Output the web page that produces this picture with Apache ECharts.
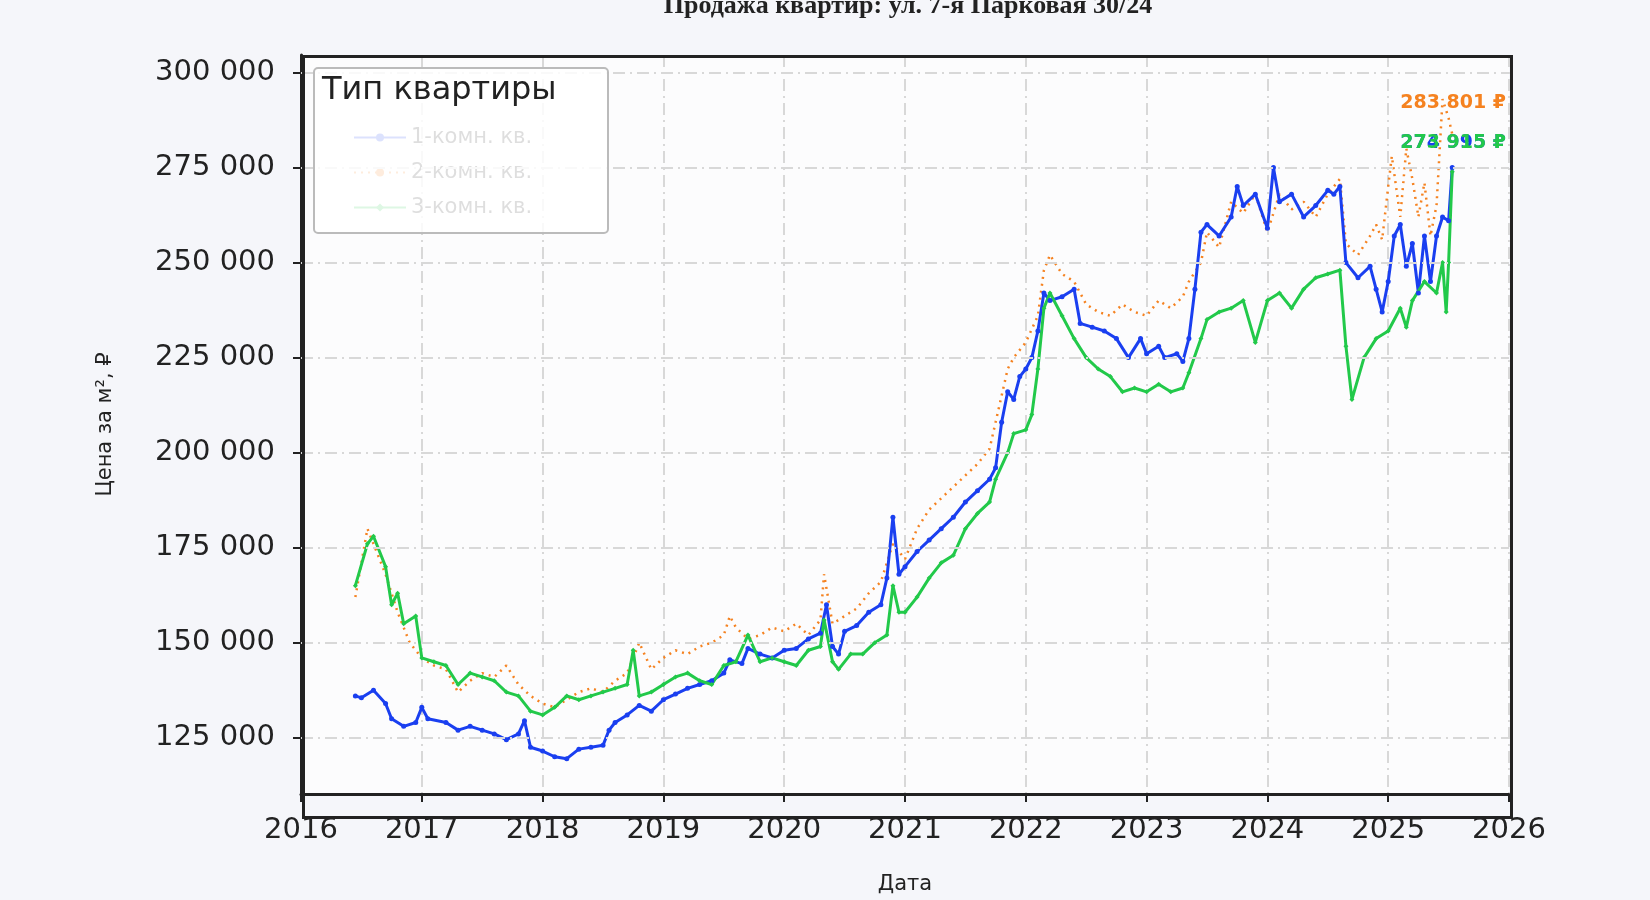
<!DOCTYPE html>
<html><head><meta charset="utf-8">
<script src="https://cdn.jsdelivr.net/npm/echarts@6/dist/echarts.min.js"></script>
<style>html,body{margin:0;background:#f5f6fa}#c{width:1650px;height:900px}</style>
</head><body><div id="c"></div>
<script>
var oneRoom = [[2016.45,136000],[2016.5,135500],[2016.6,137500],[2016.7,134000],[2016.75,130000],[2016.85,128000],[2016.95,129000],[2017.0,133000],[2017.05,130000],[2017.2,129000],[2017.3,127000],[2017.4,128000],[2017.5,127000],[2017.6,126000],[2017.7,124500],[2017.8,126000],[2017.85,129500],[2017.9,122500],[2018.0,121500],[2018.1,120000],[2018.2,119500],[2018.3,122000],[2018.4,122500],[2018.5,123000],[2018.55,127000],[2018.6,129000],[2018.7,131000],[2018.8,133500],[2018.9,132000],[2019.0,135000],[2019.1,136500],[2019.2,138000],[2019.3,139000],[2019.4,140000],[2019.5,142000],[2019.55,145500],[2019.65,144500],[2019.7,148500],[2019.8,147000],[2019.9,146000],[2020.0,148000],[2020.1,148500],[2020.2,151000],[2020.3,152500],[2020.35,160000],[2020.4,149000],[2020.45,147000],[2020.5,153000],[2020.6,154500],[2020.7,158000],[2020.8,160000],[2020.85,167000],[2020.9,183000],[2020.95,168000],[2021.0,170000],[2021.1,174000],[2021.2,177000],[2021.3,180000],[2021.4,183000],[2021.5,187000],[2021.6,190000],[2021.7,193000],[2021.75,196000],[2021.8,208000],[2021.85,216000],[2021.9,214000],[2021.95,220000],[2022.0,222000],[2022.05,225000],[2022.1,232000],[2022.15,242000],[2022.2,240000],[2022.3,241000],[2022.4,243000],[2022.45,234000],[2022.55,233000],[2022.65,232000],[2022.75,230000],[2022.85,225000],[2022.95,230000],[2023.0,226000],[2023.1,228000],[2023.15,225000],[2023.25,226000],[2023.3,224000],[2023.35,230000],[2023.4,243000],[2023.45,258000],[2023.5,260000],[2023.6,257000],[2023.7,262000],[2023.75,270000],[2023.8,265000],[2023.9,268000],[2024.0,259000],[2024.05,275000],[2024.1,266000],[2024.2,268000],[2024.3,262000],[2024.4,265000],[2024.5,269000],[2024.55,268000],[2024.6,270000],[2024.65,250000],[2024.75,246000],[2024.85,249000],[2024.9,243000],[2024.95,237000],[2025.0,245000],[2025.05,257000],[2025.1,260000],[2025.15,249000],[2025.2,255000],[2025.25,242000],[2025.3,257000],[2025.35,245000],[2025.4,257000],[2025.45,262000],[2025.5,261000],[2025.53,274995]];
var twoRoom = [[2016.45,162000],[2016.55,180000],[2016.6,176000],[2016.7,168000],[2016.8,158000],[2016.9,150000],[2017.0,146000],[2017.1,144000],[2017.2,143000],[2017.3,137000],[2017.4,140000],[2017.5,142000],[2017.6,141000],[2017.7,144000],[2017.8,139000],[2017.9,136000],[2018.0,134000],[2018.1,133000],[2018.2,135000],[2018.3,137000],[2018.4,138000],[2018.5,137000],[2018.6,140000],[2018.7,142000],[2018.8,150000],[2018.9,143000],[2019.0,146000],[2019.1,148000],[2019.2,147000],[2019.3,149000],[2019.4,150000],[2019.5,152000],[2019.55,157000],[2019.6,154000],[2019.7,151000],[2019.8,152000],[2019.9,154000],[2020.0,153000],[2020.1,155000],[2020.2,152000],[2020.3,156000],[2020.33,168000],[2020.4,155000],[2020.5,157000],[2020.6,159000],[2020.7,163000],[2020.8,166000],[2020.9,176000],[2021.0,172000],[2021.1,180000],[2021.2,185000],[2021.3,188000],[2021.4,191000],[2021.5,194000],[2021.6,197000],[2021.7,201000],[2021.75,208000],[2021.85,222000],[2021.9,225000],[2022.0,229000],[2022.1,236000],[2022.15,248000],[2022.2,252000],[2022.3,247000],[2022.4,245000],[2022.5,239000],[2022.6,237000],[2022.7,236000],[2022.8,239000],[2022.9,237000],[2023.0,236000],[2023.1,240000],[2023.2,238000],[2023.3,241000],[2023.35,245000],[2023.45,250000],[2023.5,258000],[2023.6,254000],[2023.7,266000],[2023.8,263000],[2023.9,268000],[2024.0,258000],[2024.1,268000],[2024.2,264000],[2024.3,266000],[2024.4,262000],[2024.5,268000],[2024.6,272000],[2024.65,255000],[2024.75,252000],[2024.85,257000],[2024.9,260000],[2024.95,256000],[2025.0,270000],[2025.03,278000],[2025.1,262000],[2025.15,280000],[2025.2,272000],[2025.25,262000],[2025.3,271000],[2025.35,257000],[2025.4,265000],[2025.45,293000],[2025.5,288000],[2025.53,283801]];
var threeRoom = [[2016.45,165000],[2016.55,176000],[2016.6,178000],[2016.7,170000],[2016.75,160000],[2016.8,163000],[2016.85,155000],[2016.95,157000],[2017.0,146000],[2017.1,145000],[2017.2,144000],[2017.3,139000],[2017.4,142000],[2017.5,141000],[2017.6,140000],[2017.7,137000],[2017.8,136000],[2017.9,132000],[2018.0,131000],[2018.1,133000],[2018.2,136000],[2018.3,135000],[2018.4,136000],[2018.5,137000],[2018.6,138000],[2018.7,139000],[2018.75,148000],[2018.8,136000],[2018.9,137000],[2019.0,139000],[2019.1,141000],[2019.2,142000],[2019.3,140000],[2019.4,139000],[2019.5,144000],[2019.6,145000],[2019.7,152000],[2019.8,145000],[2019.9,146000],[2020.0,145000],[2020.1,144000],[2020.2,148000],[2020.3,149000],[2020.33,156000],[2020.4,145000],[2020.45,143000],[2020.55,147000],[2020.65,147000],[2020.75,150000],[2020.85,152000],[2020.9,165000],[2020.95,158000],[2021.0,158000],[2021.1,162000],[2021.2,167000],[2021.3,171000],[2021.4,173000],[2021.5,180000],[2021.6,184000],[2021.7,187000],[2021.75,193000],[2021.85,200000],[2021.9,205000],[2022.0,206000],[2022.05,210000],[2022.1,222000],[2022.15,238000],[2022.2,242000],[2022.3,236000],[2022.4,230000],[2022.5,225000],[2022.6,222000],[2022.7,220000],[2022.8,216000],[2022.9,217000],[2023.0,216000],[2023.1,218000],[2023.2,216000],[2023.3,217000],[2023.35,221000],[2023.45,230000],[2023.5,235000],[2023.6,237000],[2023.7,238000],[2023.8,240000],[2023.9,229000],[2024.0,240000],[2024.1,242000],[2024.2,238000],[2024.3,243000],[2024.4,246000],[2024.5,247000],[2024.6,248000],[2024.65,228000],[2024.7,214000],[2024.8,225000],[2024.9,230000],[2025.0,232000],[2025.1,238000],[2025.15,233000],[2025.2,240000],[2025.3,245000],[2025.4,242000],[2025.45,250000],[2025.48,237000],[2025.5,250000],[2025.53,273915]];
var seriesNames = ['1-комн. кв.', '2-комн. кв.', '3-комн. кв.'];
var lastLabels = ['274 995 ₽', '283 801 ₽', '273 915 ₽'];
var labelY = [281500, 292000, 281500];
var yTicks = [125000, 150000, 175000, 200000, 225000, 250000, 275000, 300000];

var colors = ['#1a3ff0', '#f58220', '#22c94a'];
var font = 'DejaVu Sans';
function fmt(v) { return String(v).replace(/\B(?=(\d{3})+(?!\d))/g, ' '); }
function mk(i, data, symbol, dashed) {
  return {
    name: seriesNames[i], type: 'line', data: data,
    symbol: symbol, symbolSize: symbol === 'none' ? 0 : 5,
    itemStyle: { color: colors[i] },
    lineStyle: { color: colors[i], width: dashed ? 2.5 : 3, type: dashed ? [2, 5] : 'solid' },
    markPoint: {
      symbol: 'circle', symbolSize: 0,
      data: [{ coord: [2025.1, labelY[i]] }],
      label: { show: true, position: 'right', distance: 0, formatter: lastLabels[i],
        color: colors[i], fontFamily: font, fontWeight: 'bold', fontSize: 19 }
    },
    z: i === 1 ? 1 : 2
  };
}
var grid = '#d8d8d8';
var chart = echarts.init(document.getElementById('c'));
chart.setOption({
  backgroundColor: '#f5f6fa',
  animation: false,
  title: { text: 'Продажа квартир: ул. 7-я Парковая 30/24', left: 903, top: -12, textAlign: 'center',
    textStyle: { fontFamily: 'Liberation Serif', fontWeight: 'bold', fontSize: 26, color: '#222' } },
  grid: { left: 301, right: 141, top: 55, bottom: 85, show: true, backgroundColor: '#fcfcfd', borderWidth: 0 },
  xAxis: {
    type: 'value', min: 2016, max: 2026, interval: 1,
    name: 'Дата', nameLocation: 'middle', nameGap: 80,
    nameTextStyle: { fontFamily: font, fontSize: 21, color: '#222' },
    axisLine: { show: true, lineStyle: { color: '#222', width: 3 } },
    axisTick: { show: true, length: 8, lineStyle: { color: '#222', width: 2 } },
    axisLabel: { fontFamily: font, fontSize: 29, color: '#222', margin: 22, formatter: function (v) { return String(v); } },
    splitLine: { show: true, lineStyle: { color: grid, width: 2, type: [12, 5, 2, 5] } }
  },
  yAxis: {
    type: 'value', min: 110200, max: 304600,
    name: 'Цена за м², ₽', nameLocation: 'middle', nameGap: 185,
    nameTextStyle: { fontFamily: font, fontSize: 21, color: '#222' },
    axisLine: { show: true, lineStyle: { color: '#222', width: 3 } },
    axisTick: { show: true, length: 8, customValues: yTicks, lineStyle: { color: '#222', width: 2 } },
    axisLabel: { fontFamily: font, fontSize: 29, color: '#222', margin: 26, customValues: yTicks,
      formatter: function (v) { return fmt(v); } },
    splitLine: { show: false }
  },
  legend: {
    orient: 'vertical', left: 348, top: 122, itemGap: 14, itemWidth: 52, itemHeight: 10,
    textStyle: { fontFamily: font, fontSize: 21, color: '#222' },
    data: seriesNames
  },
  graphic: [
    { type: 'rect', left: 313, top: 67, shape: { width: 294, height: 165, r: 4 },
      style: { fill: 'rgba(255,255,255,0.85)', stroke: '#bbb', lineWidth: 2 }, z: 50 },
    { type: 'text', left: 322, top: 75, style: { text: 'Тип квартиры', fontFamily: font, fontSize: 32, fill: '#222' }, z: 51 },
    { type: 'rect', left: 301, top: 54, shape: { width: 1208, height: 761 },
      style: { fill: 'none', stroke: '#222', lineWidth: 3 }, z: 100 }
  ],
  series: [
    mk(0, oneRoom, 'circle', false),
    mk(1, twoRoom, 'none', true),
    mk(2, threeRoom, 'diamond', false),
    {
      type: 'line', data: [], silent: true,
      markLine: { symbol: 'none', silent: true, label: { show: false },
        lineStyle: { color: grid, width: 2, type: [12, 5, 2, 5] },
        data: yTicks.map(function (v) { return { yAxis: v }; }) }
    }
  ]
});
</script></body></html>
